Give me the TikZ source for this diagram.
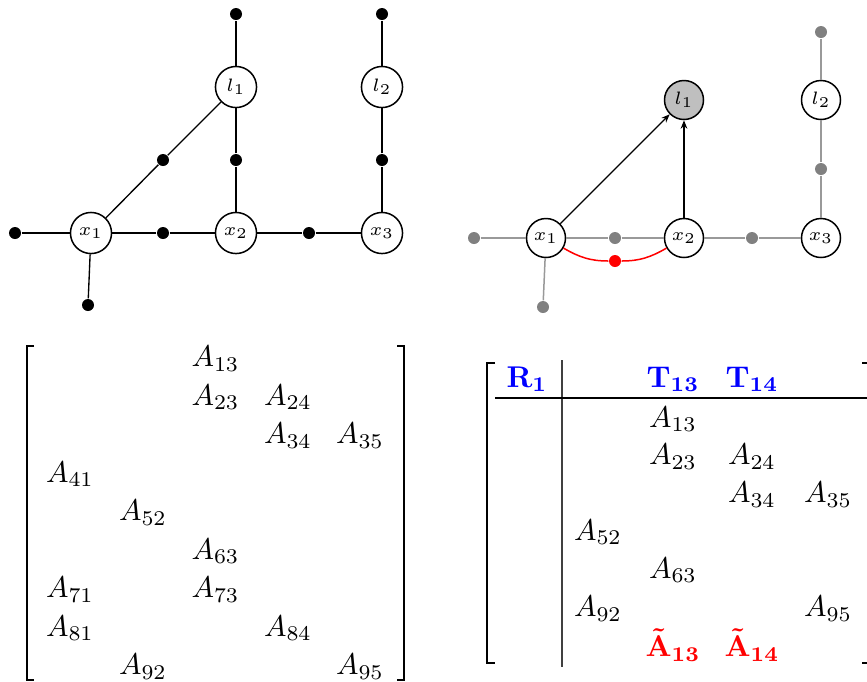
\documentclass[tikz,border=0pt]{standalone}
\usepackage{amsmath}
\usetikzlibrary{arrows.meta}
\newcommand{\redA}[1]{{\boldmath$\tilde{\mathbf{A}}_{\mathbf{#1}}$}}
\begin{document}
\begin{tikzpicture}[x=0.3333pt,y=-0.3333pt,
  vnode/.style={circle,draw,line width=0.5pt,minimum size=13.7pt,inner sep=0pt,font=\fontsize{6}{7}\selectfont},
  rnode/.style={vnode,minimum size=13pt},
  dotn/.style={circle,fill=black,minimum size=4pt,inner sep=0pt},
  gdot/.style={circle,fill=gray,minimum size=4pt,inner sep=0pt},
  rdot/.style={circle,fill=red,minimum size=4pt,inner sep=0pt},
  edge/.style={line width=0.45pt},
  gedge/.style={line width=0.5pt,gray!80},
  arr/.style={line width=0.45pt,-{Stealth[length=2.8pt,width=2.2pt,inset=0.9pt]}},
  ent/.style={inner sep=0pt},
  hdr/.style={inner sep=0pt,text=blue},
  redent/.style={inner sep=0pt,text=red},
  brk/.style={line width=0.6pt}]
\useasboundingbox (0,0) rectangle (867,681);

% ---------- left graph ----------
\node[vnode] (x1) at (91,233) {$x_1$};
\node[vnode] (x2) at (236,233) {$x_2$};
\node[vnode] (x3) at (382,233) {$x_3$};
\node[vnode] (l1) at (236,87) {$l_1$};
\node[vnode] (l2) at (382,87) {$l_2$};
\node[dotn] (a1) at (15,233) {};
\node[dotn] (a2) at (88,305) {};
\node[dotn] (a3) at (163,233) {};
\node[dotn] (a4) at (309,233) {};
\node[dotn] (a5) at (163,160) {};
\node[dotn] (a6) at (236,160) {};
\node[dotn] (a7) at (382,160) {};
\node[dotn] (a8) at (236,14) {};
\node[dotn] (a9) at (382,14) {};
\draw[edge] (a1) -- (x1);
\draw[edge] (x1) -- (a2);
\draw[edge] (x1) -- (a3) -- (x2);
\draw[edge] (x2) -- (a4) -- (x3);
\draw[edge] (x1) -- (a5) -- (l1);
\draw[edge] (x2) -- (a6) -- (l1);
\draw[edge] (x3) -- (a7) -- (l2);
\draw[edge] (l1) -- (a8);
\draw[edge] (l2) -- (a9);

% ---------- right graph ----------
\node[rnode] (y1) at (546,238) {$x_1$};
\node[rnode] (y2) at (684,238) {$x_2$};
\node[rnode] (y3) at (821,238) {$x_3$};
\node[rnode,fill=gray!50] (m1) at (684,100) {$l_1$};
\node[rnode] (m2) at (821,100) {$l_2$};
\node[gdot] (b1) at (474,238) {};
\node[gdot] (b2) at (543,307) {};
\node[gdot] (b3) at (615,238) {};
\node[gdot] (b4) at (752,238) {};
\node[gdot] (b5) at (821,169) {};
\node[gdot] (b6) at (821,32) {};
\draw[gedge] (b1) -- (y1);
\draw[gedge] (y1) -- (b2);
\draw[gedge] (y1) -- (b3) -- (y2);
\draw[gedge] (y2) -- (b4) -- (y3);
\draw[gedge] (y3) -- (b5) -- (m2);
\draw[gedge] (m2) -- (b6);
\draw[arr] (y1) -- (m1);
\draw[arr] (y2) -- (m1);
\node[rdot] (r) at (615,261) {};
\draw[red,line width=0.5pt] (y1) to[out=-30,in=180] (r) to[out=0,in=-150] (y2);

% ---------- left matrix ----------
\draw[brk] (34,346) -- (27,346) -- (27,680) -- (34,680);
\draw[brk] (397,346) -- (404,346) -- (404,680) -- (397,680);
\node[ent] (e13) at (215.5,358.5) {$A_{13}$};
\node[ent] (e23) at (215.5,397) {$A_{23}$};
\node[ent] (e24) at (288,397) {$A_{24}$};
\node[ent] (e34) at (288,435.5) {$A_{34}$};
\node[ent] (e35) at (360,435.5) {$A_{35}$};
\node[ent] (e41) at (70,474) {$A_{41}$};
\node[ent] (e52) at (143,512.5) {$A_{52}$};
\node[ent] (e63) at (215.5,551) {$A_{63}$};
\node[ent] (e71) at (70,589.5) {$A_{71}$};
\node[ent] (e73) at (215.5,589.5) {$A_{73}$};
\node[ent] (e81) at (70,628) {$A_{81}$};
\node[ent] (e84) at (288,628) {$A_{84}$};
\node[ent] (e92) at (143,666.5) {$A_{92}$};
\node[ent] (e95) at (360,666.5) {$A_{95}$};

% ---------- right matrix ----------
\draw[brk] (495,363) -- (487,363) -- (487,663) -- (495,663);
\draw[brk] (862,363) -- (872,363) -- (872,663) -- (862,663);
\draw[line width=0.4pt,black!75] (562,360) -- (562,667);
\draw[line width=0.45pt] (495,398) -- (870,398);
\node[hdr] (hR) at (527,379) {$\mathbf{R}_{\mathbf{1}}$};
\node[hdr] (hT13) at (673,379) {$\mathbf{T}_{\mathbf{13}}$};
\node[hdr] (hT14) at (752,379) {$\mathbf{T}_{\mathbf{14}}$};
\node[ent] (f13) at (673,419) {$A_{13}$};
\node[ent] (f23) at (673,456.5) {$A_{23}$};
\node[ent] (f24) at (752,456.5) {$A_{24}$};
\node[ent] (f34) at (752,494.5) {$A_{34}$};
\node[ent] (f35) at (828,494.5) {$A_{35}$};
\node[ent] (f52) at (598,532) {$A_{52}$};
\node[ent] (f63) at (673,570) {$A_{63}$};
\node[ent] (f92) at (598,608.5) {$A_{92}$};
\node[ent] (f95) at (828,608.5) {$A_{95}$};
\node[redent] (t13) at (673,645) {\redA{13}};
\node[redent] (t14) at (752,645) {\redA{14}};
\end{tikzpicture}
\end{document}
